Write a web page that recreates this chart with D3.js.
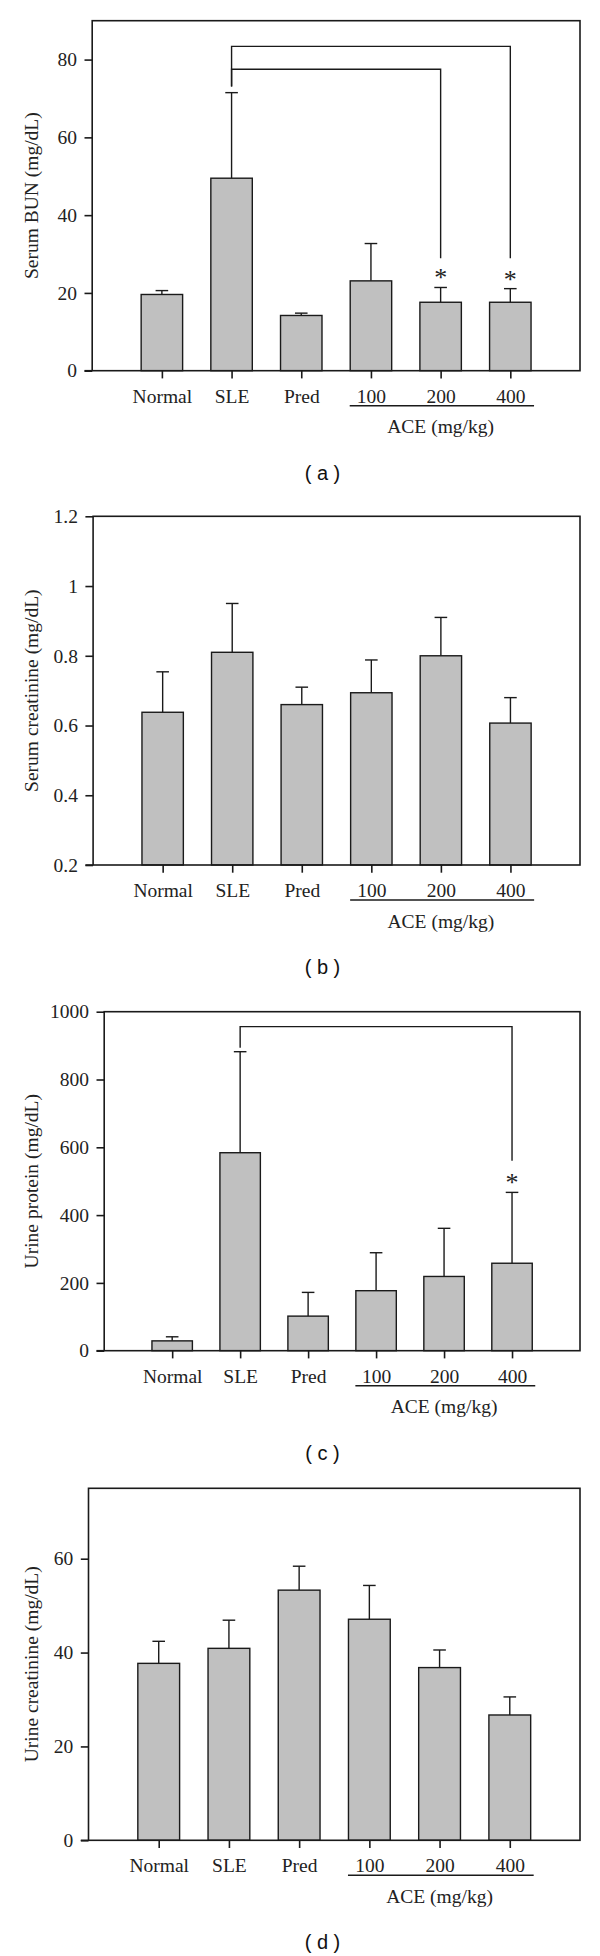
<!DOCTYPE html>
<html>
<head>
<meta charset="utf-8">
<script src="https://cdn.jsdelivr.net/npm/d3@7"></script>
<style>
  body { margin: 0; background: #fff; }
  svg { display: block; }
  .serif { font-family: "Liberation Serif", "Times New Roman", serif; fill: #222; }
</style>
</head>
<body>
<svg id="chart" width="600" height="1956"></svg>
<script>
// ---------- data ----------
const categories = ["Normal", "SLE", "Pred", "100", "200", "400"];
const aceGroup = ["100", "200", "400"];

const bunMean = [19.6, 49.5, 14.2, 23.1, 17.6, 17.6];
const bunSD   = [1.0, 22.0, 0.6, 9.6, 3.8, 3.5];
const bunTicks = [0, 20, 40, 60, 80];

const serumCreatMean = [0.638, 0.81, 0.66, 0.694, 0.80, 0.607];
const serumCreatSD   = [0.116, 0.14, 0.05, 0.094, 0.11, 0.073];
const serumCreatTicks = [0.2, 0.4, 0.6, 0.8, 1, 1.2];

const proteinMean = [29, 584, 102, 177, 219, 258];
const proteinSD   = [12, 298, 70, 112, 142, 209];
const proteinTicks = [0, 200, 400, 600, 800, 1000];

const urineCreatMean = [37.7, 40.9, 53.3, 47.1, 36.8, 26.7];
const urineCreatSD   = [4.7, 6.0, 5.1, 7.2, 3.75, 3.85];
const urineCreatTicks = [0, 20, 40, 60];

// significance brackets: level, where each leg stops (data units)
const bunBrackets = [
  { from: "SLE", to: "400", level: 83.4, fromEnd: 73.1, toEnd: 28.9 },
  { from: "SLE", to: "200", level: 77.5, fromEnd: 73.1, toEnd: 28.9 }
];
const bunStars = ["200", "400"];
const proteinBrackets = [
  { from: "SLE", to: "400", level: 956, fromEnd: 894, toEnd: 560 }
];
const proteinStars = ["400"];

// ---------- layout ----------
const svg = d3.select("#chart");
const FS = 19.5;
const TICK = 7.7;
const RIGHT = 580;

const panels = [
  { mean: bunMean, sd: bunSD, ticks: bunTicks, domain: [0, 90], top: 20.7, bottom: 370.7, left: 92.2,
    ylabel: "Serum BUN (mg/dL)", caption: "( a )", brackets: bunBrackets, stars: bunStars },
  { mean: serumCreatMean, sd: serumCreatSD, ticks: serumCreatTicks, domain: [0.2, 1.2], top: 516.3, bottom: 865, left: 93.1,
    ylabel: "Serum creatinine (mg/dL)", caption: "( b )", brackets: [], stars: [] },
  { mean: proteinMean, sd: proteinSD, ticks: proteinTicks, domain: [0, 1000], top: 1011.7, bottom: 1350.7, left: 104.2,
    ylabel: "Urine protein (mg/dL)", caption: "( c )", brackets: proteinBrackets, stars: proteinStars },
  { mean: urineCreatMean, sd: urineCreatSD, ticks: urineCreatTicks, domain: [0, 75], top: 1488.3, bottom: 1840.3, left: 88.5,
    ylabel: "Urine creatinine (mg/dL)", caption: "( d )", brackets: [], stars: [] }
];

panels.forEach(p => {
  const g = svg.append("g");
  const x = d3.scalePoint().domain(categories).range([p.left, RIGHT]).padding(1);
  const y = d3.scaleLinear().domain(p.domain).range([p.bottom, p.top]);
  const bw = x.step() * 0.595;
  const rows = categories.map((c, i) => ({ c, m: p.mean[i], e: p.mean[i] + p.sd[i] }));

  // error bars (upper only)
  g.selectAll(".err").data(rows).join("line")
    .attr("x1", d => x(d.c)).attr("x2", d => x(d.c))
    .attr("y1", d => y(d.m)).attr("y2", d => y(d.e))
    .attr("stroke", "#1a1a1a").attr("stroke-width", 1.4);
  g.selectAll(".cap").data(rows).join("line")
    .attr("x1", d => x(d.c) - 6.3).attr("x2", d => x(d.c) + 6.3)
    .attr("y1", d => y(d.e)).attr("y2", d => y(d.e))
    .attr("stroke", "#1a1a1a").attr("stroke-width", 1.4);

  // bars
  g.selectAll(".bar").data(rows).join("rect")
    .attr("x", d => x(d.c) - bw / 2).attr("width", bw)
    .attr("y", d => y(d.m)).attr("height", d => y(p.domain[0]) - y(d.m))
    .attr("fill", "#c0c0c0").attr("stroke", "#1a1a1a").attr("stroke-width", 1.4);

  // frame
  g.append("rect").attr("x", p.left).attr("y", p.top)
    .attr("width", RIGHT - p.left).attr("height", p.bottom - p.top)
    .attr("fill", "none").attr("stroke", "#1a1a1a").attr("stroke-width", 1.6);
  g.append("line").attr("x1", p.left - TICK).attr("x2", p.left)
    .attr("y1", p.bottom).attr("y2", p.bottom)
    .attr("stroke", "#1a1a1a").attr("stroke-width", 1.6);

  // y axis
  const ya = g.append("g").attr("transform", `translate(${p.left},0)`)
    .call(d3.axisLeft(y).tickValues(p.ticks).tickSize(TICK).tickPadding(7.5).tickFormat(d3.format("~g")));
  ya.select(".domain").remove();
  ya.selectAll(".tick line").attr("stroke", "#1a1a1a").attr("stroke-width", 1.6);
  ya.selectAll(".tick text").style("font-size", FS + "px")
    .attr("fill", "#222").style("font-family", '"Liberation Serif", serif');

  // x axis
  const xa = g.append("g").attr("transform", `translate(0,${p.bottom})`)
    .call(d3.axisBottom(x).tickSize(TICK).tickPadding(32 - TICK - 0.71 * FS));
  xa.select(".domain").remove();
  xa.selectAll(".tick line").attr("stroke", "#1a1a1a").attr("stroke-width", 1.6);
  xa.selectAll(".tick text").style("font-size", FS + "px")
    .attr("fill", "#222").style("font-family", '"Liberation Serif", serif');

  // ACE underline + label
  const ax0 = x(aceGroup[0]) - bw / 2 - 0.5;
  const ax1 = x(aceGroup[aceGroup.length - 1]) + bw / 2 + 3;
  g.append("line").attr("x1", ax0).attr("x2", ax1)
    .attr("y1", p.bottom + 35).attr("y2", p.bottom + 35)
    .attr("stroke", "#1a1a1a").attr("stroke-width", 1.5);
  g.append("text").attr("class", "serif")
    .attr("x", x(aceGroup[1])).attr("y", p.bottom + 62.5)
    .attr("text-anchor", "middle").style("font-size", FS + "px")
    .text("ACE (mg/kg)");

  // y label
  g.append("text").attr("class", "serif")
    .attr("transform", `translate(31,${(p.top + p.bottom) / 2}) rotate(-90)`)
    .attr("text-anchor", "middle").attr("dy", "0.35em")
    .style("font-size", FS + "px")
    .text(p.ylabel);

  // caption
  g.append("text")
    .attr("x", 322.5).attr("y", p.bottom + 102).attr("dy", "0.35em")
    .attr("text-anchor", "middle")
    .style("font-family", '"Liberation Sans", Arial, sans-serif').style("font-size", "20px")
    .attr("fill", "#111")
    .text(p.caption);

  // brackets
  p.brackets.forEach(b => {
    const path = d3.path();
    path.moveTo(x(b.from), y(b.fromEnd));
    path.lineTo(x(b.from), y(b.level));
    path.lineTo(x(b.to), y(b.level));
    path.lineTo(x(b.to), y(b.toEnd));
    g.append("path").attr("d", path.toString())
      .attr("fill", "none").attr("stroke", "#1a1a1a").attr("stroke-width", 1.4);
  });

  // stars
  p.stars.forEach(s => {
    const i = categories.indexOf(s);
    const cy = y(p.mean[i] + p.sd[i]) - 11;
    g.append("text").attr("class", "serif")
      .attr("x", x(s)).attr("y", cy + 10)
      .attr("text-anchor", "middle").style("font-size", "26px").attr("fill", "#555")
      .text("*");
  });
});
</script>
</body>
</html>
